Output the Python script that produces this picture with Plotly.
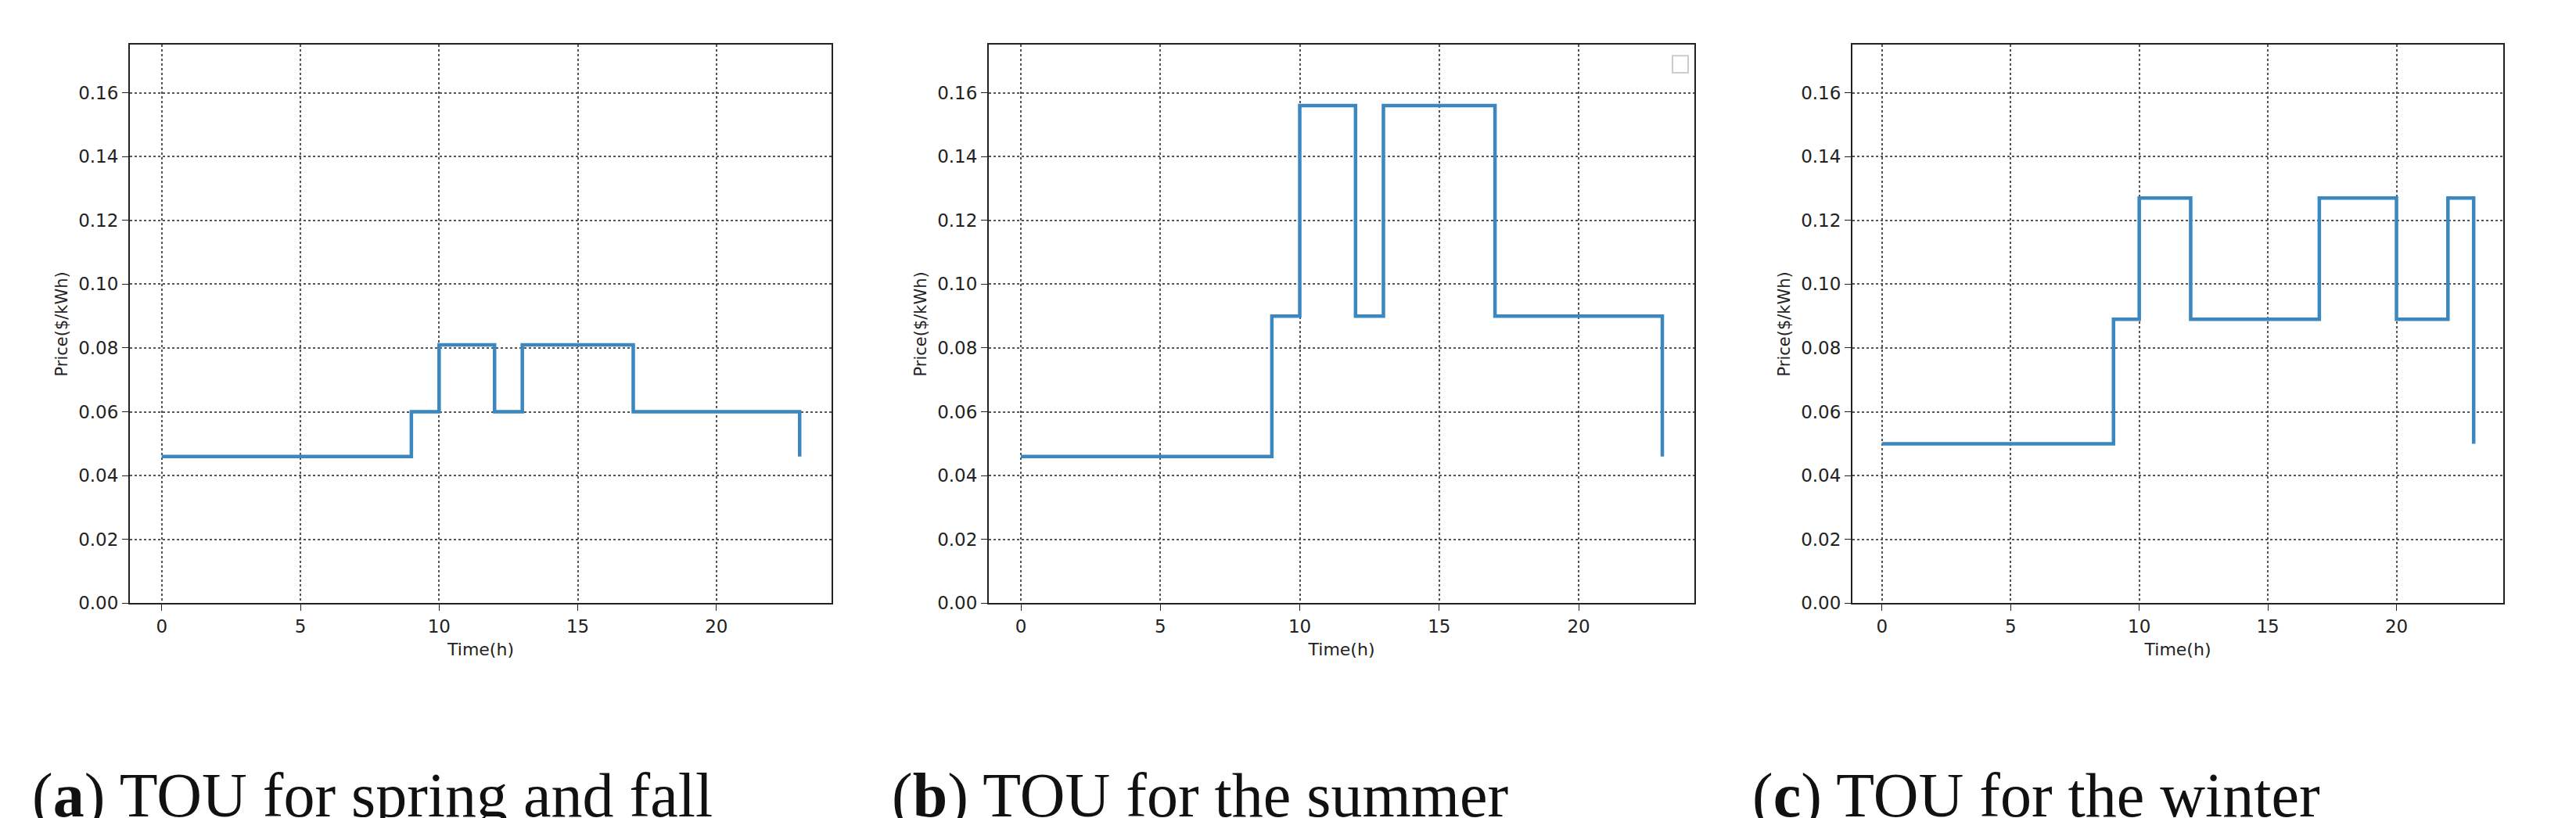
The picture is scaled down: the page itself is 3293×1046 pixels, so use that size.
import plotly.graph_objects as go

hours = list(range(24))
price_spring_fall = [0.046]*9 + [0.060] + [0.081]*2 + [0.060] + [0.081]*4 + [0.060]*6 + [0.046]
price_summer = [0.046]*9 + [0.090] + [0.156]*2 + [0.090] + [0.156]*4 + [0.090]*6 + [0.046]
price_winter = [0.050]*9 + [0.089] + [0.127]*2 + [0.089]*5 + [0.127]*3 + [0.089]*2 + [0.127] + [0.050]
captions = [("a", "TOU for spring and fall"), ("b", "TOU for the summer"), ("c", "TOU for the winter")]
x_ticks = [0, 5, 10, 15, 20]
y_ticks = [0.0, 0.02, 0.04, 0.06, 0.08, 0.10, 0.12, 0.14, 0.16]

W, H = 3293, 1046
panels = [(158, 1055), (1256, 2158), (2360, 3192)]
cap_x = [31, 1130, 2230]
top, bottom = 50, 773

fig = go.Figure()
series = [price_spring_fall, price_summer, price_winter]
for i, (ys, (x0, x1)) in enumerate(zip(series, panels)):
    n = "" if i == 0 else str(i + 1)
    fig.add_trace(go.Scatter(x=hours, y=ys, mode="lines", line_shape="hv",
                             line=dict(color="#3b87c0", width=4.5),
                             xaxis="x" + n, yaxis="y" + n, showlegend=False))
    ax = dict(domain=[x0 / W, x1 / W], range=[-1.15, 24.15], tickvals=x_ticks,
              showgrid=True, gridcolor="#555", griddash="dot", gridwidth=1.5,
              showline=True, linecolor="#222", linewidth=2, mirror=True,
              ticks="outside", ticklen=8, tickcolor="#222", zeroline=False,
              tickfont=dict(size=23, color="#222", family="DejaVu Sans"),
              title=dict(text="Time(h)", font=dict(size=22, color="#222", family="DejaVu Sans"), standoff=10),
              anchor="y" + n)
    ay = dict(domain=[1 - bottom / H, 1 - top / H], range=[0, 0.175], tickvals=y_ticks,
              tickformat=".2f",
              showgrid=True, gridcolor="#555", griddash="dot", gridwidth=1.5,
              showline=True, linecolor="#222", linewidth=2, mirror=True,
              ticks="outside", ticklen=8, tickcolor="#222", zeroline=False,
              tickfont=dict(size=23, color="#222", family="DejaVu Sans"),
              title=dict(text="Price($/kWh)", font=dict(size=21, color="#222", family="DejaVu Sans"), standoff=8),
              anchor="x" + n)
    fig.update_layout(**{"xaxis" + n: ax, "yaxis" + n: ay})
    letter, text = captions[i]
    fig.add_annotation(xref="paper", yref="paper", x=cap_x[i] / W, y=1 - 1022 / H,
                       xanchor="left", yanchor="middle", showarrow=False,
                       text="(<b>%s</b>) %s" % (letter, text),
                       font=dict(size=80, color="#111", family="Liberation Serif"))

# empty legend box in panel (b)
fig.add_shape(type="rect", xref="paper", yref="paper",
              x0=(2158 - 28) / W, x1=(2158 - 8) / W, y0=1 - 86 / H, y1=1 - 64 / H,
              line=dict(color="#ccc", width=2), fillcolor="white")

fig.update_layout(width=W, height=H, margin=dict(l=0, r=0, t=0, b=0),
                  plot_bgcolor="white", paper_bgcolor="white")
fig.write_html("out.html")
